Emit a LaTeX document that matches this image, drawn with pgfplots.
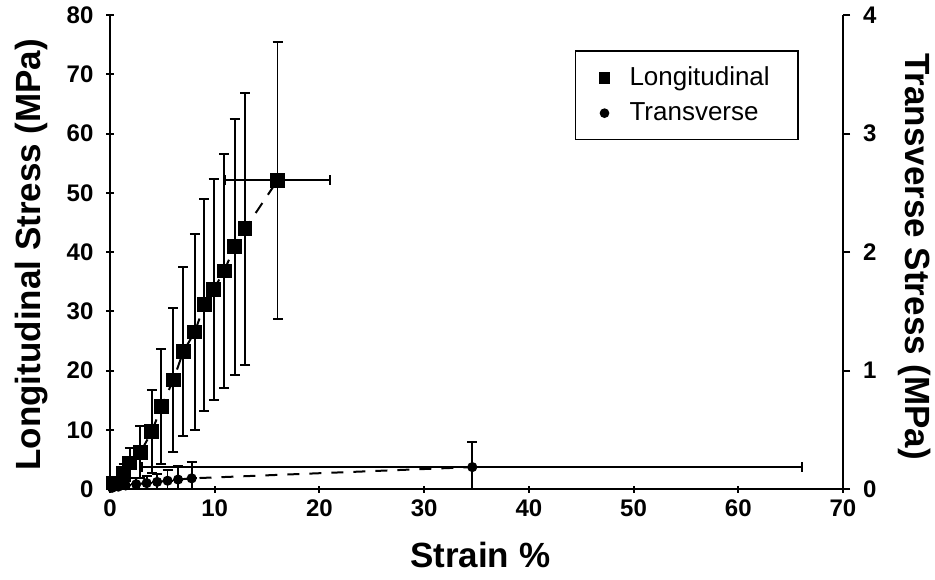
\documentclass[border=0pt]{standalone}
\usepackage{fontspec}
\setmainfont{Liberation Sans}
\usepackage{pgfplots}
\usepackage{pgfplotstable}
\pgfplotsset{compat=1.18}
\usetikzlibrary{calc}

\pgfplotstableread{
x     y     ex   ey
0.3   1.0   0.0  0.8
1.3   2.7   0.0  1.5
1.9   4.4   0.0  2.5
2.9   6.2   0.0  4.4
4.0   9.7   0.0  7.0
4.9   13.9  0.0  9.7
6.05  18.4  0.0  12.2
7.0   23.2  0.0  14.3
8.1   26.5  0.0  16.6
9.0   31.1  0.0  17.9
9.9   33.7  0.0  18.7
10.9  36.8  0.0  19.8
11.9  40.9  0.0  21.6
12.9  43.9  0.0  23.0
16.0  52.1  5.0  23.4
}\longdata

\pgfplotstableread{
x     y      ex    ey
0.2   0.01   0.0   0.02
0.8   0.02   0.0   0.03
1.5   0.03   0.0   0.04
2.5   0.04   0.0   0.05
3.5   0.05   0.0   0.06
4.5   0.06   0.0   0.07
5.5   0.07   0.0   0.09
6.5   0.08   0.0   0.11
7.8   0.09   0.0   0.14
34.6  0.185  31.5  0.215
}\transdata

\begin{document}
\begin{tikzpicture}
\pgfplotsset{
  base/.style={
    scale only axis, width=366.5pt, height=237pt,
    xmin=0, xmax=70,
    /pgf/number format/assume math mode=true,
    tick label style={font=\fontsize{12}{14}\selectfont\bfseries},
    label style={font=\fontsize{17.5}{20}\selectfont\bfseries},
    major tick length=3.5pt,
    tick style={line width=1pt, black},
    tick align=outside,
  }
}
\begin{axis}[base,
  axis x line=bottom, axis y line=left,
  axis line style={line width=1.2pt, -},
  ymin=0, ymax=80,
  xtick={0,10,...,70}, ytick={0,10,...,80},
  yticklabel style={xshift=-3pt},
  xlabel={Strain \%}, ylabel={Longitudinal Stress (MPa)},
  xlabel style={at={(rel axis cs:0.505,-0.1392)}, anchor=center},
  ylabel style={at={(rel axis cs:-0.1064,0.494)}, anchor=center},
]
\coordinate (bl) at (rel axis cs:0,0);
\coordinate (tr) at (rel axis cs:1,1);
\addplot[black, line width=1pt, dash pattern=on 6pt off 5pt,
  mark=square*, mark size=3.2pt, mark options={solid},
  error bars/.cd, x dir=both, x explicit, y dir=both, y explicit,
  error bar style={line width=0.9pt, solid},
  error mark options={rotate=90, mark size=2.5pt, line width=1pt}]
  table[x=x, y=y, x error=ex, y error=ey] {\longdata};
\end{axis}
\begin{axis}[base,
  axis x line=none, axis y line*=right,
  axis line style={line width=1.2pt, -},
  ymin=0, ymax=4, ytick={0,1,...,4},
  yticklabel style={xshift=3pt},
  ylabel={Transverse Stress (MPa)},
  ylabel style={at={(rel axis cs:1.0982,0.49)}, anchor=center, rotate=180},
  legend cell align=left,
  legend style={at={(0.634,0.926)}, anchor=north west, draw=black, line width=0.8pt,
    inner xsep=12pt, inner ysep=6pt, row sep=3pt,
    /tikz/every odd column/.append style={column sep=8pt},
    font=\fontsize{13}{15}\selectfont},
]
\addlegendimage{only marks, mark=square*, mark size=2.5pt, black}
\addlegendentry{Longitudinal}
\addlegendimage{only marks, mark=*, mark size=2pt, black}
\addlegendentry{Transverse}
\addplot[black, line width=1pt, dash pattern=on 6pt off 5pt, forget plot,
  mark=*, mark size=2pt, mark options={solid},
  error bars/.cd, x dir=both, x explicit, y dir=both, y explicit,
  error bar style={line width=0.9pt, solid},
  error mark options={rotate=90, mark size=2.5pt, line width=1pt}]
  table[x=x, y=y, x error=ex, y error=ey] {\transdata};
\end{axis}
\pgfresetboundingbox
\path ($(bl)+(-55pt,-45pt)$) rectangle ($(tr)+(46pt,7.5pt)$);
\end{tikzpicture}
\end{document}
